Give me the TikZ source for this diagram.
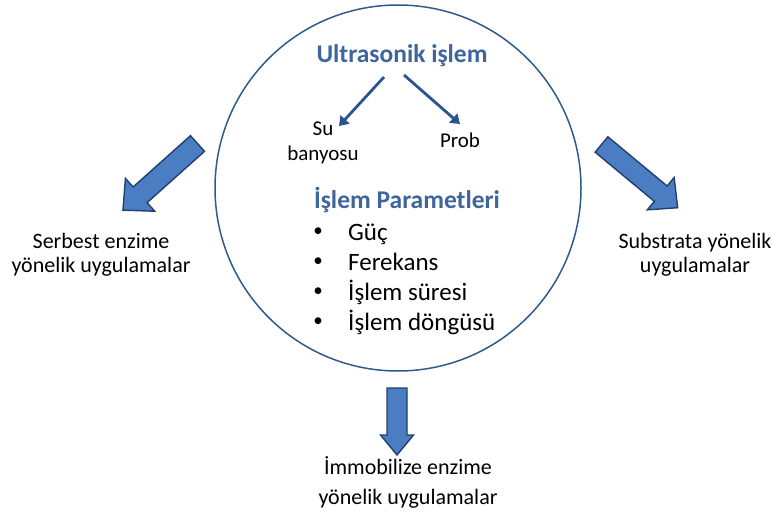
\documentclass[tikz,border=0pt]{standalone}
\usepackage{fontspec}
\setmainfont{Carlito}
\usepackage{xcolor}
\usepackage{tikz}
\usetikzlibrary{arrows.meta,positioning}
\definecolor{cemberc}{HTML}{2F5B8C}
\definecolor{baslikc}{HTML}{3E659C}
\definecolor{okc}{HTML}{2A5391}
\definecolor{okdolgu}{HTML}{4A7DC2}
\definecolor{okkenar}{HTML}{22406C}
\tikzset{
  blokok/.style={draw=okkenar,line width=1.4pt,fill=okdolgu,line join=miter},
  kucukok/.style={-{Triangle[length=9pt,width=12pt]},line width=2.8pt,okc},
  baslik/.style={font=\bfseries\fontsize{25.5}{28}\selectfont,text=baslikc,inner sep=0pt},
  madde/.style={font=\fontsize{25}{28}\selectfont,inner sep=0pt},
  etiket/.style={font=\fontsize{22}{24}\selectfont,align=center,inner sep=0pt}
}
% tail point, angle, length, shaft half width, head half width, head length
\newcommand{\okciz}[6]{%
  \begin{scope}[shift={#1},rotate=#2]
    \draw[blokok] (0,-#4) -- ({#3-#6},-#4) -- ({#3-#6},-#5) -- (#3,0)
      -- ({#3-#6},#5) -- ({#3-#6},#4) -- (0,#4) -- cycle;
  \end{scope}}

\begin{document}
\begin{tikzpicture}[x=1pt,y=-1pt]
\useasboundingbox (0,0) rectangle (773,513);
\node[circle,draw=cemberc,line width=1.5pt,minimum size=366pt,inner sep=0pt] (cember) at (398,188) {};
% inside the circle
\node[baslik,anchor=base] (ultra) at (402,63) {Ultrasonik işlem};
\node[font=\fontsize{21}{25}\selectfont,align=center,inner sep=0pt] (suban) at (323,143) {Su\\banyosu};
\node[font=\fontsize{21}{25}\selectfont,inner sep=0pt,anchor=base] (prob) at (460,148) {Prob};
\coordinate (ultraA) at (384,77);
\coordinate (ultraB) at (404,75);
\coordinate (subanU) at (339,126);
\coordinate (probU) at (460,124);
\draw[kucukok] (ultraA) -- (subanU);
\draw[kucukok] (ultraB) -- (probU);
\node[baslik,anchor=base] (param) at (407,208) {İşlem Parametleri};
\foreach \t/\y [count=\i] in {Güç/240,Ferekans/270,İşlem süresi/300,İşlem döngüsü/330}{
  \node[madde,font=\fontsize{19}{22}\selectfont] (nokta\i) at (318,\y-8) {•};
  \node[madde,anchor=base west] (madde\i) at (348,\y) {\t};
}
% block arrows
\okciz{(197.5,143.5)}{221.8}{100}{10.5}{22}{23}
\okciz{(601.5,144.5)}{-39.7}{99}{10}{21}{22}
\okciz{(397,388)}{-90}{67}{10}{16.5}{20}
% outer labels
\node[etiket] (serbest) at (101,255) {Serbest enzime\\yönelik uygulamalar};
\node[etiket] (substrata) at (695,255) {Substrata yönelik\\uygulamalar};
\node[etiket,font=\fontsize{22}{30}\selectfont] (immob) at (408,482) {İmmobilize enzime\\yönelik uygulamalar};
\end{tikzpicture}
\end{document}
